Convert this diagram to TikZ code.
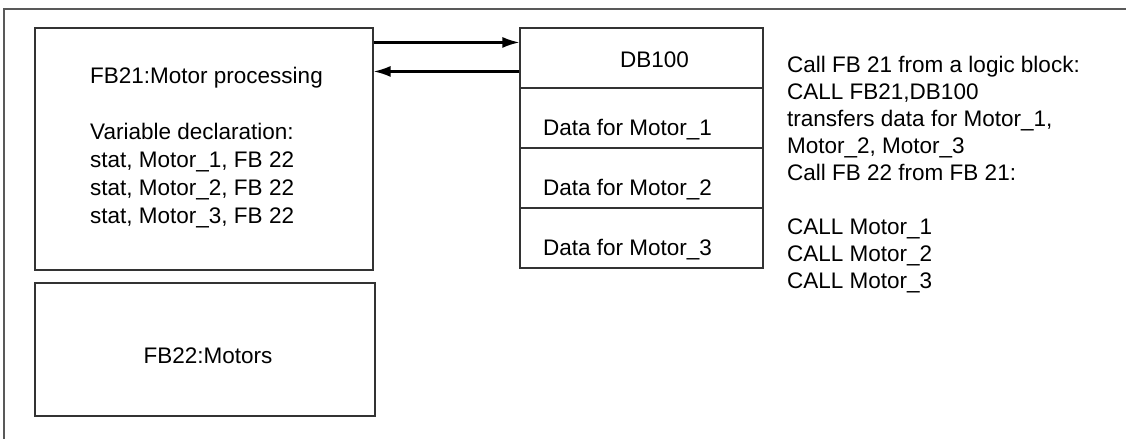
\documentclass[tikz,border=0pt]{standalone}
\usepackage{fontspec}
\setmainfont{Liberation Sans}
\usetikzlibrary{arrows.meta}
\begin{document}
\begin{tikzpicture}[x=1pt,y=-1pt,
	box/.style={draw=black!80, line width=1.1pt, inner sep=0pt},
	txt/.style={inner sep=0pt, align=left, font=\fontsize{22.5pt}{28pt}\selectfont},
	rtxt/.style={txt, font=\fontsize{22.5pt}{27pt}\selectfont},
	>={Latex[length=17pt,width=11pt]}]
			\useasboundingbox (0,0) rectangle (1126,439);
			\draw[black!65, line width=1.2pt] (1126,9) -- (4,9) -- (4,439);
			\node[box, minimum width=338pt, minimum height=242pt] (fb21) at (204,149) {};
			\node[box, minimum width=340pt, minimum height=133pt] (fb22) at (205,349.5) {};
			\node[box, minimum width=243pt, minimum height=60pt] (db100) at (641.5,58) {};
			\node[box, minimum width=243pt, minimum height=60pt] (data1) at (641.5,118) {};
			\node[box, minimum width=243pt, minimum height=60pt] (data2) at (641.5,178) {};
			\node[box, minimum width=243pt, minimum height=60pt] (data3) at (641.5,238) {};
			\node[txt, anchor=north west] (fb21text) at (90,67) {FB21:Motor processing\\[28pt]Variable declaration:\\stat, Motor\_1, FB 22\\stat, Motor\_2, FB 22\\stat, Motor\_3, FB 22};
			\node[txt, anchor=base] (fb22text) at (208,363) {FB22:Motors};
			\node[txt, anchor=base west] (db100text) at (620,67) {DB100};
			\node[txt, anchor=base west] (data1text) at (543,135) {Data for Motor\_1};
			\node[txt, anchor=base west] (data2text) at (543,195) {Data for Motor\_2};
			\node[txt, anchor=base west] (data3text) at (543,255) {Data for Motor\_3};
			\node[rtxt, anchor=north west] (calltext) at (787,56) {Call FB 21 from a logic block:\\CALL FB21,DB100\\transfers data for Motor\_1,\\Motor\_2, Motor\_3\\Call FB 22 from FB 21:\\[27pt]CALL Motor\_1\\CALL Motor\_2\\CALL Motor\_3};
			\draw[->, line width=2.2pt] ([yshift=-15pt]fb21.north east) -- ([yshift=-15pt]db100.north west);
			\draw[->, line width=2.2pt] ([yshift=-44pt]db100.north west) -- ([yshift=-44pt]fb21.north east);
		
		\end{tikzpicture}
\end{document}
